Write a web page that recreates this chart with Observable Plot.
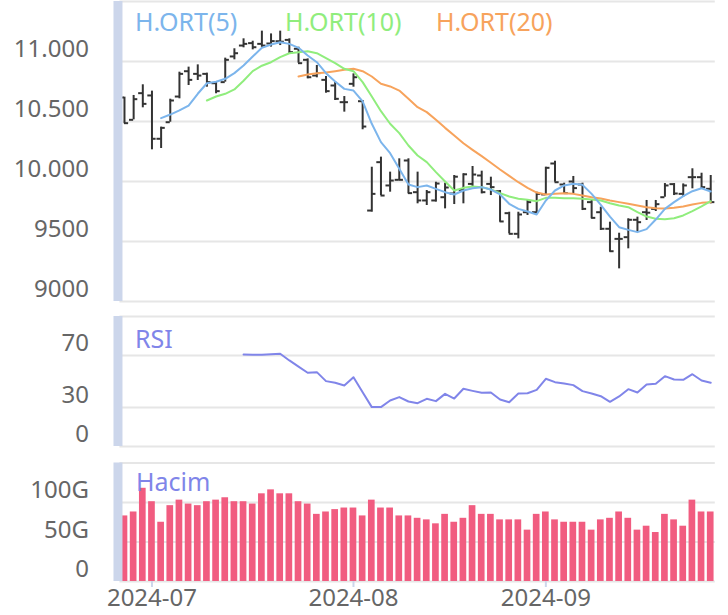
<!DOCTYPE html>
<html>
<head>
<meta charset="utf-8">
<script src="https://cdn.jsdelivr.net/npm/d3@7"></script>
<script src="https://cdn.jsdelivr.net/npm/@observablehq/plot@0.6"></script>
<style>
  html, body { margin: 0; padding: 0; background: #ffffff; }
  #chart { position: relative; width: 728px; height: 615px; overflow: hidden; font-family: "Noto Sans", sans-serif; }
  #chart .panel { position: absolute; left: 0; }
  #chart .lbl { position: absolute; font-size: 25px; line-height: 25px; white-space: nowrap; }
</style>
</head>
<body>
<div id="chart">
  <div class="panel" id="p1" style="top:0px"></div>
  <div class="panel" id="p2" style="top:306px"></div>
  <div class="panel" id="p3" style="top:450px"></div>
  <div class="lbl" style="left:135px;top:9px;color:#7cb5ec">H.ORT(5)</div>
  <div class="lbl" style="left:285px;top:9px;color:#90ed7d">H.ORT(10)</div>
  <div class="lbl" style="left:436px;top:9px;color:#f7a35c">H.ORT(20)</div>
  <div class="lbl" style="left:135px;top:326px;color:#8085e9">RSI</div>
  <div class="lbl" style="left:136px;top:469px;color:#8085e9">Hacim</div>
</div>
<script>
// ---- Data ----
const dates = [
  "2024-06-26","2024-06-27","2024-06-28",
  "2024-07-01","2024-07-02","2024-07-03","2024-07-04","2024-07-05",
  "2024-07-08","2024-07-09","2024-07-10","2024-07-11","2024-07-12",
  "2024-07-16","2024-07-17","2024-07-18","2024-07-19",
  "2024-07-22","2024-07-23","2024-07-24","2024-07-25","2024-07-26",
  "2024-07-29","2024-07-30","2024-07-31",
  "2024-08-01","2024-08-02",
  "2024-08-05","2024-08-06","2024-08-07","2024-08-08","2024-08-09",
  "2024-08-12","2024-08-13","2024-08-14","2024-08-15","2024-08-16",
  "2024-08-19","2024-08-20","2024-08-21","2024-08-22","2024-08-23",
  "2024-08-26","2024-08-27","2024-08-28","2024-08-29",
  "2024-09-02","2024-09-03","2024-09-04","2024-09-05","2024-09-06",
  "2024-09-09","2024-09-10","2024-09-11","2024-09-12","2024-09-13",
  "2024-09-16","2024-09-17","2024-09-18","2024-09-19","2024-09-20",
  "2024-09-23","2024-09-24","2024-09-25","2024-09-26"
];
const open = [10700,10514,10736,10717,10356,10494,10708,10919,10897,10897,
  10819,10828,11042,11133,11153,11147,11150,11169,11180,11106,
  11014,10883,10847,10800,10661,10814,10669,9758,10161,9967,
  10014,10175,9911,9842,9842,9869,9900,9930,9980,10050,
  9980,9919,9736,9564,9744,9744,9892,10150,9975,10000,
  9975,9828,9744,9606,9522,9536,9681,9744,9772,9869,
  9978,9897,10036,10036,9939];
const high = [10703,10717,10806,10753,10453,10686,10911,10953,10972,10903,
  10828,11028,11106,11189,11169,11253,11230,11253,11189,11119,
  11022,10967,10875,10828,10708,10897,10675,10119,10203,10078,
  10189,10189,10078,9925,9994,9986,10050,10064,10125,10086,
  10036,9925,9744,9744,9842,9911,10119,10169,9986,10042,
  9986,9842,9786,9661,9569,9689,9703,9842,9842,9983,
  9983,9980,10106,10069,10050];
const low = [10481,10514,10614,10264,10275,10494,10689,10800,10842,10786,
  10731,10828,11014,11114,11097,11119,11120,11133,11064,10986,
  10856,10864,10736,10675,10578,10786,10431,9744,9883,9911,
  10008,9897,9814,9800,9828,9772,9808,9814,9953,9897,
  9883,9661,9564,9522,9717,9730,9883,9994,9892,9897,
  9758,9689,9592,9411,9272,9439,9578,9675,9750,9869,
  9883,9869,9939,9939,9814];
const close = [10486,10686,10647,10356,10447,10675,10897,10847,10883,10828,
  10753,11014,11069,11147,11119,11133,11170,11165,11078,10986,
  10869,10903,10753,10689,10661,10869,10458,9897,9883,10008,
  10014,9903,9842,9911,9983,9950,10040,10060,10058,9911,
  9953,9667,9564,9725,9828,9897,10114,9994,9903,9945,
  9772,9697,9606,9419,9522,9681,9661,9740,9811,9967,
  9900,9967,10036,9953,9828];
const ma5 = [null,null,null,null,10528,10558,10592,10633,10731,10819,
  10831,10856,10903,10967,11042,11114,11142,11161,11147,11114,
  11050,10994,10903,10833,10772,10758,10667,10481,10328,10236,
  10106,9975,9953,9967,9939,9911,9892,9925,9944,9953,
  9933,9892,9814,9772,9750,9725,9842,9925,9967,9981,
  9972,9897,9806,9708,9619,9597,9578,9603,9683,9772,
  9828,9878,9919,9944,9917];
const ma10 = [null,null,null,null,null,null,null,null,null,10675,
  10708,10731,10767,10840,10920,10965,10994,11036,11069,11078,
  11086,11069,11028,10986,10939,10919,10828,10708,10586,10481,
  10403,10300,10217,10161,10078,10000,9925,9947,9958,9953,
  9933,9903,9875,9856,9847,9836,9864,9864,9861,9861,
  9856,9850,9842,9819,9800,9786,9744,9708,9689,9686,
  9694,9717,9753,9792,9836];
const ma20 = [null,null,null,null,null,null,null,null,null,null,
  null,null,null,null,null,null,null,null,null,10875,
  10892,10903,10908,10919,10931,10939,10919,10875,10814,10792,
  10758,10689,10619,10578,10514,10447,10383,10319,10264,10211,
  10156,10100,10047,9994,9947,9908,9892,9897,9903,9897,
  9883,9869,9858,9842,9828,9814,9800,9786,9778,9775,
  9781,9792,9808,9822,9828];
const rsi = [null,null,null,null,null,null,null,null,null,null,
  null,null,null,70.8,70.6,70.5,71,71.3,66.2,61.5,
  56.7,57.2,50.3,49,46.9,53.3,41.8,30.3,30.3,35.4,
  38,34.6,33.3,36.7,34.9,40.5,36.9,44.4,42.8,41.3,
  41.5,36.2,34.1,40.8,41,43.6,52.1,49.5,48.5,47.2,
  42.6,40.8,38.7,34.4,38.5,44.1,41.5,47.7,48.2,54.1,
  51.5,51.3,55.6,50.8,49];
const volume = [83,88,118,101,75,96,103,98,96,101,
  103,106,101,101,98,111,116,111,111,101,
  98,85,88,91,93,93,83,103,93,93,
  83,83,80,78,73,85,75,80,96,85,
  85,78,78,78,65,85,88,78,75,75,
  75,65,78,80,88,80,65,70,62,85,
  78,70,103,88,88];

const priceGrid = [9000, 9500, 10000, 10500, 11000, 11500];
const priceTicks = [9000, 9500, 10000, 10500, 11000];
const priceTickLabels = ["9000", "9500", "10.000", "10.500", "11.000"];
const rsiGrid = [0, 30, 70, 100];
const rsiTicks = [0, 30, 70];
const rsiTickLabels = ["0", "30", "70"];
const volGrid = [0, 50, 100, 150];
const volTicks = [0, 50, 100];
const volTickLabels = ["0", "50G", "100G"];
const monthTicks = ["2024-07-01", "2024-08-01", "2024-09-02"];
const monthLabels = ["2024-07", "2024-08", "2024-09"];

// ---- Table built from the arrays ----
const rows = dates.map((d, i) => ({
  date: d, open: open[i], high: high[i], low: low[i], close: close[i],
  ma5: ma5[i], ma10: ma10[i], ma20: ma20[i], rsi: rsi[i], volume: volume[i]
}));

// ---- Shared settings ----
const GRID = "#e6e6e6";
const AXIS = "#ccd6eb";
const TEXT = "#666666";
const FONT = '"Noto Sans", sans-serif';
const xScale = {type: "band", domain: dates, paddingInner: 0.27, paddingOuter: 0.135, round: false};
const common = {
  width: 728, marginLeft: 119.4, marginRight: 13.2,
  style: {fontFamily: FONT, fontSize: "24px", color: TEXT, background: "transparent", overflow: "visible"}
};
const leftBar = () => Plot.ruleX([dates[0]], {dx: -6.5, stroke: AXIS, strokeWidth: 9});
const yLabels = (ticks, labels) => Plot.axisY(ticks, {
  tickSize: 0, tickPadding: 31, dy: -12, fontSize: 24, fill: TEXT, textAnchor: "end", label: null,
  tickFormat: d => labels[ticks.indexOf(d)]
});

// ---- Price panel ----
const price = Plot.plot({
  ...common, height: 310, marginTop: 1, marginBottom: 9,
  x: {...xScale, axis: null},
  y: {domain: [9000, 11500], axis: null, label: null},
  marks: [
    Plot.ruleY(priceGrid, {stroke: GRID, strokeWidth: 2}),
    Plot.ruleX(rows, {x: "date", y1: "low", y2: "high", stroke: "#333333", strokeWidth: 2}),
    Plot.tickY(rows, {x: "date", y: "open", stroke: "#333333", strokeWidth: 2, insetRight: 3.35, insetLeft: -0.8}),
    Plot.tickY(rows, {x: "date", y: "close", stroke: "#333333", strokeWidth: 2, insetLeft: 3.35, insetRight: -0.8}),
    Plot.line(rows, {x: "date", y: "ma20", stroke: "#f7a35c", strokeWidth: 2}),
    Plot.line(rows, {x: "date", y: "ma10", stroke: "#90ed7d", strokeWidth: 2}),
    Plot.line(rows, {x: "date", y: "ma5", stroke: "#7cb5ec", strokeWidth: 2}),
    leftBar(),
    yLabels(priceTicks, priceTickLabels)
  ]
});
document.getElementById("p1").appendChild(price);

// ---- RSI panel ----
const rsiPlot = Plot.plot({
  ...common, height: 150, marginTop: 10, marginBottom: 10,
  x: {...xScale, axis: null},
  y: {domain: [0, 100], axis: null, label: null},
  marks: [
    Plot.ruleY(rsiGrid, {stroke: GRID, strokeWidth: 2}),
    Plot.line(rows, {x: "date", y: "rsi", stroke: "#8085e9", strokeWidth: 2}),
    leftBar(),
    yLabels(rsiTicks, rsiTickLabels)
  ]
});
document.getElementById("p2").appendChild(rsiPlot);

// ---- Volume panel ----
const volPlot = Plot.plot({
  ...common, height: 165, marginTop: 12.5, marginBottom: 34,
  x: {...xScale},
  y: {domain: [0, 150], axis: null, label: null},
  marks: [
    Plot.ruleY(volGrid, {stroke: GRID, strokeWidth: 2}),
    Plot.barY(rows, {x: "date", y: "volume", fill: "#f15c80"}),
    leftBar(),
    yLabels(volTicks, volTickLabels),
    Plot.axisX(monthTicks, {
      tickSize: 6, tickPadding: 1, stroke: AXIS, strokeWidth: 2, fill: TEXT, fontSize: 24, label: null,
      tickFormat: d => monthLabels[monthTicks.indexOf(d)]
    })
  ]
});
document.getElementById("p3").appendChild(volPlot);
</script>
</body>
</html>
